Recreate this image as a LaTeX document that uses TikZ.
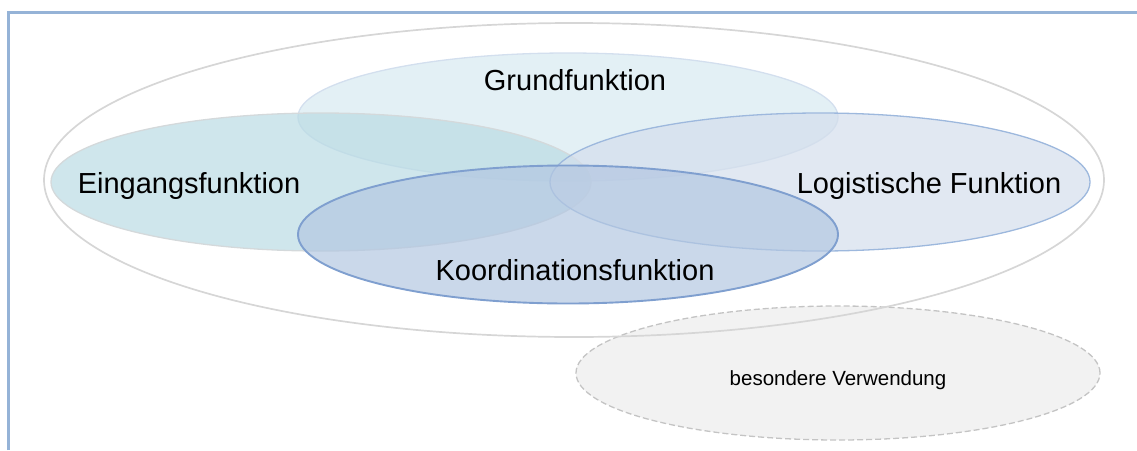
\documentclass[tikz,border=0pt]{standalone}
\usepackage{fontspec}
\setmainfont{Liberation Sans}
\usetikzlibrary{shapes.geometric}

\definecolor{frameblue}{HTML}{95B3D7}
\definecolor{ringgray}{HTML}{D6D6D6}
\definecolor{grundfill}{HTML}{D7EAF1}
\definecolor{grundline}{HTML}{D3DFEE}
\definecolor{eingfill}{HTML}{BADBE4}
\definecolor{eingline}{HTML}{D4D9DB}
\definecolor{logfill}{HTML}{D4DEEC}
\definecolor{logline}{HTML}{9DB8DD}
\definecolor{koordfill}{HTML}{B3C7E1}
\definecolor{koordline}{HTML}{7F9FCF}
\definecolor{extrafill}{HTML}{F2F2F2}
\definecolor{extraline}{HTML}{C4C4C4}

\tikzset{
  oval/.style={ellipse, inner sep=0pt, minimum width=540pt, minimum height=138pt},
  func/.style={oval, fill opacity=0.7, line width=1.3pt},
  lbl/.style={font=\fontsize{29}{32}\selectfont, inner sep=0pt, anchor=base},
  smalllbl/.style={font=\fontsize{20.5}{23}\selectfont, inner sep=0pt, anchor=base}
}

\begin{document}
\begin{tikzpicture}[x=1pt,y=-1pt]
  \useasboundingbox (0,0) rectangle (1137,450);

  % page frame (left and top edges)
  \draw[frameblue, line width=3pt] (8,450) -- (8,12) -- (1137,12);

  % special use, outside the main group
  \node[oval, minimum width=524pt, minimum height=134pt, fill=extrafill,
        draw=extraline, dashed, dash pattern=on 6pt off 3pt, line width=1.3pt]
        (extra) at (838,373) {};

  % enclosing ring
  \node[ellipse, inner sep=0pt, minimum width=1060pt, minimum height=314pt,
        draw=ringgray, line width=1.7pt] (ring) at (574,180) {};

  % the four functions
  \node[func, minimum height=128pt, fill=grundfill, draw=grundline] (grund) at (568,117) {};
  \node[func, fill=eingfill, draw=eingline] (eing) at (321,182) {};
  \node[func, fill=logfill, draw=logline] (log) at (820,182) {};
  \node[func, fill=koordfill, draw=koordline, line width=1.9pt] (koord) at (568,234.5) {};

  % labels
  \node[lbl] (tgrund) at (575,90) {Grundfunktion};
  \node[lbl] (teing) at (189,193) {Eingangsfunktion};
  \node[lbl] (tlog) at (929,193) {Logistische Funktion};
  \node[lbl] (tkoord) at (575,280) {Koordinationsfunktion};
  \node[smalllbl] (textra) at (838,385) {besondere Verwendung};
\end{tikzpicture}
\end{document}
